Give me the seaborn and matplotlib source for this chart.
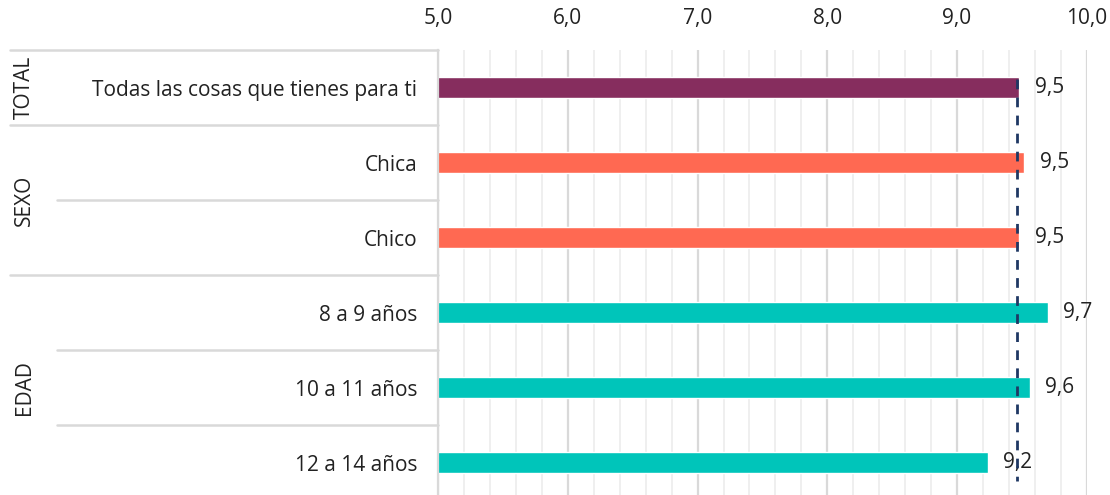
import matplotlib
matplotlib.use("Agg")
import matplotlib.pyplot as plt
import seaborn as sns
import pandas as pd
from matplotlib.ticker import MultipleLocator

categories = ["Todas las cosas que tienes para ti", "Chica", "Chico",
              "8 a 9 años", "10 a 11 años", "12 a 14 años"]
groups = ["TOTAL", "SEXO", "SEXO", "EDAD", "EDAD", "EDAD"]
values = [9.48, 9.52, 9.48, 9.70, 9.56, 9.24]
average = 9.46
x_ticks = [5.0, 6.0, 7.0, 8.0, 9.0, 10.0]
group_names = ["TOTAL", "SEXO", "EDAD"]
palette = {"TOTAL": "#862D5E", "SEXO": "#FF6952", "EDAD": "#00C5BA"}

sns.set_theme(style="white")
plt.rcParams["font.family"] = ["Open Sans", "DejaVu Sans"]

df = pd.DataFrame({"cat": categories, "grp": groups, "val": values})

FS = 15
fig = plt.figure(figsize=(11.1, 4.95), dpi=100)
ax = fig.add_axes([438.2 / 1110, 1 - 500 / 495, (1086.7 - 438.2) / 1110, 450 / 495])

sns.barplot(data=df, y="cat", x="val", hue="grp", palette=palette, dodge=False,
            orient="h", width=0.27, legend=False, ax=ax, saturation=1)

ax.set_xlim(5.0, 10.0)
ax.set_ylim(5.5, -0.5)
ax.xaxis.tick_top()
ax.set_xticks(x_ticks)
ax.set_xticklabels([f"{t:.1f}".replace(".", ",") for t in x_ticks], fontsize=FS, color="#222222")
ax.xaxis.set_minor_locator(MultipleLocator(0.2))
ax.tick_params(axis="x", which="both", length=0, pad=15)
ax.tick_params(axis="y", length=0, pad=15, labelsize=FS, labelcolor="#222222")
ax.set_xlabel("")
ax.set_ylabel("")
ax.grid(axis="x", which="major", color="#D9D9D9", lw=1.6)
ax.grid(axis="x", which="minor", color="#EEEEEE", lw=1.3)
ax.set_axisbelow(True)
for s in ["top", "right", "bottom"]:
    ax.spines[s].set_visible(False)
ax.spines["left"].set_color("#D9D9D9")
ax.spines["left"].set_linewidth(1.6)

# value labels
for i, v in enumerate(values):
    ax.annotate(f"{v:.1f}".replace(".", ","), xy=(v, i), xytext=(11, 0),
                textcoords="offset points", va="center", ha="left",
                fontsize=FS, color="#222222")

# average dashed line
ax.vlines(average, -0.12, 5.24, colors="#1F3864", linestyles=(0, (3.5, 3)), lw=2, zorder=5)

# separators on the left
tr = ax.get_yaxis_transform()
full_x0 = (10 - 438.2) / (1086.7 - 438.2)
part_x0 = (57 - 438.2) / (1086.7 - 438.2)
for y, x0 in [(-0.5, full_x0), (0.5, full_x0), (1.5, part_x0), (2.5, full_x0),
              (3.5, part_x0), (4.5, part_x0)]:
    ax.plot([x0, 0], [y, y], transform=tr, color="#D9D9D9", lw=1.8, clip_on=False)

# group labels
gx = (24 - 438.2) / (1086.7 - 438.2)
for name, yc in zip(group_names, [0, 1.5, 4.0]):
    ax.text(gx, yc, name, transform=tr, rotation=90, ha="center", va="center",
            fontsize=FS, color="#222222")

fig.savefig("out.png", dpi=100)
